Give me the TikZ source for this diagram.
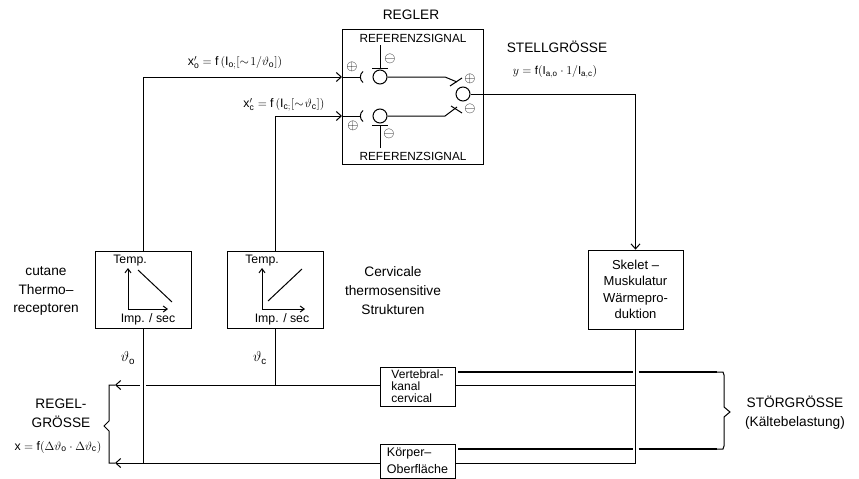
\documentclass[tikz,border=0pt]{standalone}
\usepackage{fontspec}
\setmainfont{Liberation Sans}
\usetikzlibrary{arrows.meta}

\begin{document}
\begin{tikzpicture}[
  x=1pt, y=-1pt,
  box/.style={draw, line width=0.8pt, inner sep=0pt},
  label/.style={inner sep=0pt, align=center, font=\fontsize{13.7}{18.7}\selectfont},
  small/.style={inner sep=0pt, font=\fontsize{12.3}{14}\selectfont},
  sumnode/.style={draw, circle, line width=1pt, minimum size=14pt, inner sep=0pt},
  sign/.style={inner sep=0pt, font=\fontsize{15}{15}\selectfont},
  line/.style={line width=1pt},
  arrow/.style={line width=1pt, -{Straight Barb[length=5pt,width=9pt]}},
  axis/.style={line width=1pt, -{Straight Barb[length=4pt,width=6pt]}},
  load/.style={line width=1.1pt}
]
  \useasboundingbox (0,0) rectangle (859,479);

  \node[box, minimum width=141pt, minimum height=135pt] (regler) at (412.5,96.5) {};
  \node[box, minimum width=96pt, minimum height=77pt] (cutbox) at (143,289.5) {};
  \node[box, minimum width=96pt, minimum height=77pt] (cerbox) at (275.5,289.5) {};
  \node[box, minimum width=95pt, minimum height=79pt, align=center, font=\fontsize{13}{16.5}\selectfont] (skelet) at (635.5,289.5) {Skelet --\\Muskulatur\\Wärmepro-\\duktion};
  \node[box, minimum width=75pt, minimum height=39pt, align=left, font=\fontsize{12}{12.2}\selectfont] (vertebral) at (417.5,386.5) {Vertebral-\\kanal\\cervical};
  \node[box, minimum width=75pt, minimum height=34pt, align=left, font=\fontsize{12.5}{16.5}\selectfont] (koerper) at (417.5,461) {Körper--\\Oberfläche};

  \node[label] (reglertext) at (411,15) {REGLER};
  \node[small, font=\fontsize{11.8}{12}\selectfont] (reftop) at (413,38) {REFERENZSIGNAL};
  \node[small, font=\fontsize{11.8}{12}\selectfont] (refbot) at (413,156) {REFERENZSIGNAL};
  \node[label] (stelltext) at (557,47) {STELLGRÖSSE};
  \node[small, font=\fontsize{11.5}{12}\selectfont] (stellform) at (555,72) {$y=\mathrm{f}(\mathrm{I}_{\mathrm{a,o}}\cdot 1/\mathrm{I}_{\mathrm{a,c}})$};
  \node[small] (xoform) at (235,63) {$\mathrm{x}'_{\mathrm{o}}=\mathrm{f}\,(\mathrm{I}_{\mathrm{o};}[\sim\!1/\vartheta_{\mathrm{o}}])$};
  \node[small] (xcform) at (284,105) {$\mathrm{x}'_{\mathrm{c}}=\mathrm{f}\,(\mathrm{I}_{\mathrm{c};}[\sim\!\vartheta_{\mathrm{c}}])$};
  \node[label] (cuttext) at (46,291) {cutane\\Thermo--\\receptoren};
  \node[label] (certext) at (393,290.5) {Cervicale\\thermosensitive\\Strukturen};
  \node[label] (regeltext) at (61,413) {REGEL-\\GRÖSSE};
  \node[small] (regelform) at (58,447) {$\mathrm{x}=\mathrm{f}(\Delta\vartheta_{\mathrm{o}}\cdot\Delta\vartheta_{\mathrm{c}})$};
  \node[label] (stoertext) at (795,412.5) {STÖRGRÖSSE\\(Kältebelastung)};
  \node[small, font=\fontsize{14}{14}\selectfont] (thetao) at (128,358) {$\vartheta_{\mathrm{o}}$};
  \node[small, font=\fontsize{14}{14}\selectfont] (thetac) at (260,358) {$\vartheta_{\mathrm{c}}$};

  \node[small] (tempa) at (130,261) {Temp.};
  \node[small] (impa) at (148,319) {Imp. / sec};
  \node[small] (tempb) at (262,261) {Temp.};
  \node[small] (impb) at (282,319) {Imp. / sec};

  \node[sumnode] (sumo) at (380,77) {};
  \node[sumnode] (sumc) at (380,116) {};
  \node[sumnode] (summ) at (463,94) {};
  \node[sign] (plusa) at (352,67) {$\oplus$};
  \node[sign] (minusa) at (390,59) {$\ominus$};
  \node[sign] (plusb) at (353,126) {$\oplus$};
  \node[sign] (minusb) at (389,134) {$\ominus$};
  \node[sign] (plusc) at (470,79) {$\oplus$};
  \node[sign] (minusc) at (470,109) {$\ominus$};

  \coordinate (inleft) at (342,77);
  \coordinate (incorner) at (143,77);
  \coordinate (inleftc) at (342,116);
  \coordinate (incornerc) at (275.5,116);
  \coordinate (gapo) at (360,77);
  \coordinate (gapc) at (360,116);
  \coordinate (refo) at (380,45);
  \coordinate (refc) at (380,148);
  \coordinate (baroa) at (372,68);
  \coordinate (barob) at (388,68);
  \coordinate (barca) at (372,125);
  \coordinate (barcb) at (388,125);
  \coordinate (bento) at (445,77);
  \coordinate (endo) at (457,82);
  \coordinate (bentc) at (445,116);
  \coordinate (endc) at (457,107);
  \coordinate (corner) at (635.5,94);
  \coordinate (vertl) at (380,385);
  \coordinate (vertr) at (455,385);
  \coordinate (vertm) at (635.5,385);
  \coordinate (koerl) at (380,463);
  \coordinate (koerr) at (455,463);
  \coordinate (koerm) at (635.5,463);
  \coordinate (jointo) at (143,463);
  \coordinate (jointc) at (275.5,385);
  \coordinate (gapa) at (146,385);
  \coordinate (gapb) at (140,385);
  \coordinate (tipa) at (115,385);
  \coordinate (tipb) at (115,463);

  \draw[arrow] (cutbox.north) -- (incorner) -- (inleft);
  \draw[arrow] (cerbox.north) -- (incornerc) -- (inleftc);
  \draw[line] (inleft) -- (gapo);
  \draw[line] (inleftc) -- (gapc);
  \draw[line] (363,71.5) .. controls (359.5,74) and (359.5,80) .. (363,82.5);
  \draw[line] (363,110.5) .. controls (359.5,113) and (359.5,119) .. (363,121.5);
  \draw[line] (refo) -- (380,68);
  \draw[line] (refc) -- (380,125);
  \draw[line] (baroa) -- (barob);
  \draw[line] (barca) -- (barcb);
  \draw[line] (sumo) -- (bento) -- (endo);
  \draw[line] (sumc) -- (bentc) -- (endc);
  \draw[line] (450,86) -- (462,78);
  \draw[line] (451,106) -- (462,113);
  \draw[arrow] (summ) -- (corner) -- (skelet.north);

  \draw[line] (cutbox.south) -- (jointo);
  \draw[line] (cerbox.south) -- (jointc);
  \draw[line] (skelet.south) -- (koerm);
  \draw[line] (vertr) -- (vertm);
  \draw[line] (koerr) -- (koerm);
  \draw[line] (vertl) -- (gapa);
  \draw[arrow] (gapb) -- (tipa);
  \draw[arrow] (koerl) -- (tipb);
  \draw[line] (tipa) -- (109,385) -- (109,421) -- (104,426) -- (109,431) -- (109,463) -- (tipb);

  \draw[load] (458,372) -- (632.5,372);
  \draw[load] (638.5,372) -- (717,372);
  \draw[load] (458,449) -- (632.5,449);
  \draw[load] (638.5,449) -- (717,449);
  \draw[line] (717,372) -- (723,372) -- (724,375) -- (724,407) -- (730,412) -- (724,417) -- (724,446) -- (723,449) -- (717,449);

  \draw[axis] (128,309) -- (128,268);
  \draw[axis] (128,309) -- (168,309);
  \draw[line] (138,270) -- (172,302);
  \draw[axis] (262,309) -- (262,268);
  \draw[axis] (262,309) -- (305,309);
  \draw[line] (268,301) -- (302,269);
\end{tikzpicture}
\end{document}
